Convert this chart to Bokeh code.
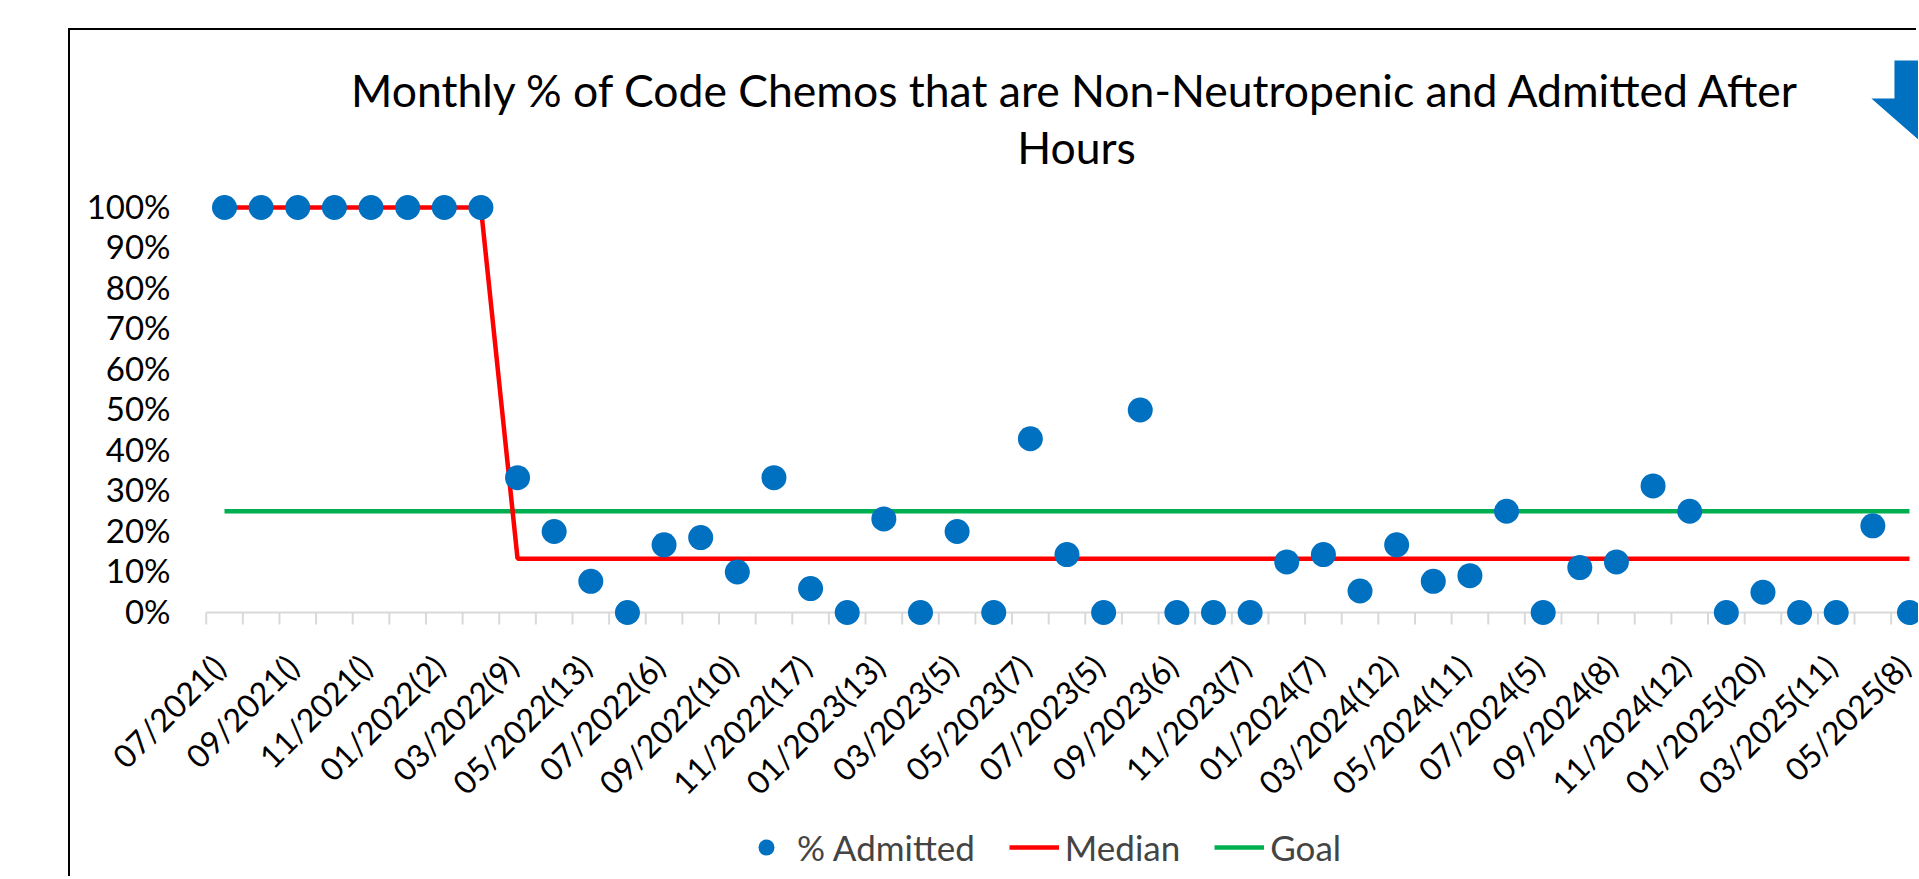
import math
from bokeh.plotting import figure
from bokeh.core.properties import value
from bokeh.models import Range1d, Legend, LegendItem, PolyAnnotation, Label
from bokeh.embed import file_html
from bokeh.resources import INLINE

# ---------------- data ----------------
months = [
    "07/2021", "08/2021", "09/2021", "10/2021", "11/2021", "12/2021",
    "01/2022", "02/2022", "03/2022", "04/2022", "05/2022", "06/2022",
    "07/2022", "08/2022", "09/2022", "10/2022", "11/2022", "12/2022",
    "01/2023", "02/2023", "03/2023", "04/2023", "05/2023", "06/2023",
    "07/2023", "08/2023", "09/2023", "10/2023", "11/2023", "12/2023",
    "01/2024", "02/2024", "03/2024", "04/2024", "05/2024", "06/2024",
    "07/2024", "08/2024", "09/2024", "10/2024", "11/2024", "12/2024",
    "01/2025", "02/2025", "03/2025", "04/2025", "05/2025",
]

pct_admitted = [
    1.0, 1.0, 1.0, 1.0, 1.0, 1.0, 1.0, 1.0,
    0.333, 0.20, 0.077, 0.0, 0.167, 0.185, 0.10, 0.333, 0.059, 0.0,
    0.231, 0.0, 0.20, 0.0, 0.429, 0.143, 0.0, 0.50, 0.0, 0.0, 0.0, 0.125,
    0.143, 0.053, 0.167, 0.077, 0.091, 0.25, 0.0, 0.111, 0.125, 0.3125,
    0.25, 0.0, 0.05, 0.0, 0.0, 0.214, 0.0,
]

median = [
    1.0, 1.0, 1.0, 1.0, 1.0, 1.0, 1.0, 1.0,
    0.133, 0.133, 0.133, 0.133, 0.133, 0.133, 0.133, 0.133, 0.133, 0.133,
    0.133, 0.133, 0.133, 0.133, 0.133, 0.133, 0.133, 0.133, 0.133, 0.133,
    0.133, 0.133, 0.133, 0.133, 0.133, 0.133, 0.133, 0.133, 0.133, 0.133,
    0.133, 0.133, 0.133, 0.133, 0.133, 0.133, 0.133, 0.133, 0.133,
]

goal = [
    0.25, 0.25, 0.25, 0.25, 0.25, 0.25, 0.25, 0.25, 0.25, 0.25,
    0.25, 0.25, 0.25, 0.25, 0.25, 0.25, 0.25, 0.25, 0.25, 0.25,
    0.25, 0.25, 0.25, 0.25, 0.25, 0.25, 0.25, 0.25, 0.25, 0.25,
    0.25, 0.25, 0.25, 0.25, 0.25, 0.25, 0.25, 0.25, 0.25, 0.25,
    0.25, 0.25, 0.25, 0.25, 0.25, 0.25, 0.25,
]

tick_labels = [
    "07/2021()", "09/2021()", "11/2021()", "01/2022(2)", "03/2022(9)",
    "05/2022(13)", "07/2022(6)", "09/2022(10)", "11/2022(17)", "01/2023(13)",
    "03/2023(5)", "05/2023(7)", "07/2023(5)", "09/2023(6)", "11/2023(7)",
    "01/2024(7)", "03/2024(12)", "05/2024(11)", "07/2024(5)", "09/2024(8)",
    "11/2024(12)", "01/2025(20)", "03/2025(11)", "05/2025(8)",
]

y_ticks = [0.0, 0.1, 0.2, 0.3, 0.4, 0.5, 0.6, 0.7, 0.8, 0.9, 1.0]

title_lines = ["Monthly % of Code Chemos that are Non-Neutropenic and Admitted After",
               "Hours"]

# ---------------- figure ----------------
x = list(range(len(months)))
FONT = "Lato"
AXIS_GREY = "#D9D9D9"
PX = 405.0    # pixels per 100 %
CAT = 36.63   # pixels per category

# the plot frame covers the whole chart box: page x 70..1918, page y 30..878
# first category at page x 224, 0 % at page y 612, 100 % at page y 207
X_START, X_END = -154 / CAT, 1694 / CAT
p = figure(width=1848, height=848, output_backend="svg", toolbar_location=None,
           x_axis_location=None, y_axis_location=None,
           x_range=Range1d(X_START, X_END), y_range=Range1d(-266 / PX, 582 / PX),
           min_border_left=0, min_border_right=0, min_border_top=0,
           min_border_bottom=0)
p.margin = (30, 0, 0, 70)
p.styles = {"box-shadow": "-2px -2px 0 0 #000000"}
p.outline_line_color = None
p.grid.visible = False
p.background_fill_color = "white"
p.border_fill_color = "white"

# category axis: line at 0 %, tick marks between categories, rotated labels
bounds = [i - 0.5 for i in range(len(months) + 1)]
p.segment(x0=[bounds[0]], y0=[0], x1=[X_END], y1=[0], line_color=AXIS_GREY, line_width=2)
p.segment(x0=bounds, y0=[0] * len(bounds), x1=bounds, y1=[-12 / PX] * len(bounds),
          line_color=AXIS_GREY, line_width=2)
label_x = [v - 0.15 for v in x[::2]]
p.text(x=label_x, y=[-48 / PX] * len(label_x), text=tick_labels, angle=math.pi / 4,
       text_align="right", text_baseline="middle", text_font=value(FONT),
       text_font_size="32px", text_color="black")

# value axis labels
y_labels = ["%d%%" % round(t * 100) for t in y_ticks]
p.text(x=[-54 / CAT] * len(y_ticks), y=[t + 2 / PX for t in y_ticks], text=y_labels,
       text_align="right", text_baseline="middle", text_font=value(FONT),
       text_font_size="33px", text_color="black")

r_goal = p.line(x, goal, line_color="#00B050", line_width=4.5)
r_med = p.line(x, median, line_color="#FF0000", line_width=4.5)
r_dots = p.scatter(x, pct_admitted, size=25, fill_color="#0070C0", line_color=None)

# title (two centred lines)
p.add_layout(Label(x=852 / CAT, y=523 / PX, text=title_lines[0], text_align="center",
                   text_baseline="middle", text_font=FONT, text_font_size="44.5px",
                   text_color="black"))
p.add_layout(Label(x=852 / CAT, y=466 / PX, text=title_lines[1], text_align="center",
                   text_baseline="middle", text_font=FONT, text_font_size="44.5px",
                   text_color="black"))

# decorative down arrow (top-right)
ax = [45.59, 46.96, 46.96, 47.58, 46.27, 44.96, 45.59]
ay = [552 / PX, 552 / PX, 514 / PX, 514 / PX, 472 / PX, 514 / PX, 514 / PX]
p.add_layout(PolyAnnotation(xs=ax, ys=ay, fill_color="#0070C0", fill_alpha=1.0,
                            line_color=None))

legend = Legend(items=[
    LegendItem(label="% Admitted", renderers=[r_dots]),
    LegendItem(label="Median", renderers=[r_med]),
    LegendItem(label="Goal", renderers=[r_goal]),
], orientation="horizontal", location=(671, 10),
    label_text_font=FONT, label_text_font_size="35px",
    glyph_width=50, glyph_height=40, label_standoff=6, spacing=34,
    border_line_color=None, background_fill_alpha=0, padding=0, margin=0)
p.add_layout(legend)

open("out.html", "w").write(file_html(p, INLINE))
